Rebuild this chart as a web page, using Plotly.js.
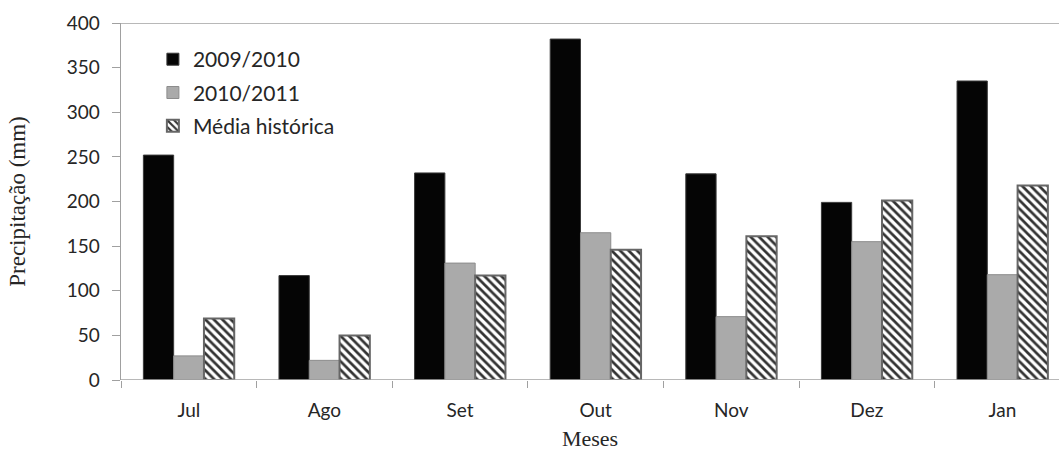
<!DOCTYPE html>
<html>
<head>
<meta charset="utf-8">
<script src="https://cdn.plot.ly/plotly-3.0.1.min.js"></script>
<style>html,body{margin:0;padding:0;background:#fff;overflow:hidden;}#chart{width:1059px;height:452px;}</style>
</head>
<body>
<div id="chart"></div>
<script>
const months = ["Jul", "Ago", "Set", "Out", "Nov", "Dez", "Jan"];
const seriesNames = ["2009/2010", "2010/2011", "Média histórica"];
const prec2009 = [252, 117, 232, 382, 231, 199, 335];
const prec2010 = [27, 22, 131, 165, 71, 155, 118];
const precMedia = [69, 50, 117, 146, 161, 201, 218];
const yTicks = [0, 50, 100, 150, 200, 250, 300, 350, 400];

const traces = [
  {type: "bar", name: seriesNames[0], x: months, y: prec2009, legendgroup: "a",
   marker: {color: "#050505", line: {color: "#3a3a3a", width: 1}}},
  {type: "bar", name: seriesNames[1], x: months, y: prec2010, legendgroup: "b",
   marker: {color: "#aaaaaa", line: {color: "#8c8c8c", width: 1}}},
  {type: "bar", name: seriesNames[2], x: months, y: precMedia, legendgroup: "c",
   marker: {color: "#ffffff", line: {color: "#666666", width: 2},
            pattern: {shape: "\\", fgcolor: "#333333", bgcolor: "#ffffff", size: 6, solidity: 0.45}}}
];

const layout = {
  width: 1059, height: 452,
  margin: {l: 121, r: 0, t: 23, b: 72},
  paper_bgcolor: "#ffffff", plot_bgcolor: "#ffffff",
  barmode: "group", bargap: 0.33, bargroupgap: 0,
  font: {family: "Lato, 'Open Sans', sans-serif", size: 19, color: "#262626"},
  showlegend: true,
  legend: {x: 0.034, y: 0.955, xanchor: "left", yanchor: "top", bgcolor: "rgba(0,0,0,0)",
           font: {family: "Lato, sans-serif", size: 21, color: "#262626"},
           traceorder: "grouped", tracegroupgap: 3, itemwidth: 30},
  shapes: [
    {type: "line", xref: "paper", yref: "y", x0: 0, x1: 1, y0: 400, y1: 400,
     line: {color: "#a0a0a0", width: 1.5}},
    {type: "line", xref: "paper", yref: "y", x0: 0, x1: 1, y0: 0, y1: 0,
     line: {color: "#a0a0a0", width: 1.5}}
  ],
  xaxis: {
    range: [-0.5, 6.417], showline: false,
    ticks: "outside", tickson: "boundaries", ticklen: 7, tickcolor: "#a0a0a0",
    ticklabelstandoff: 17,
    showgrid: false, zeroline: false,
    title: {text: "Meses", font: {family: "'Liberation Serif', 'DejaVu Serif', serif", size: 22, color: "#262626"}, standoff: 10}
  },
  yaxis: {
    range: [0, 400], tickvals: yTicks, showline: true, linecolor: "#a0a0a0", linewidth: 1.5,
    ticks: "outside", ticklen: 8, tickcolor: "#a0a0a0", showgrid: false, zeroline: false,
    ticklabelstandoff: 8,
    title: {text: "Precipitação (mm)", font: {family: "'Liberation Serif', 'DejaVu Serif', serif", size: 23, color: "#262626"}, standoff: 34}
  }
};

Plotly.newPlot("chart", traces, layout, {displayModeBar: false, staticPlot: true});
</script>
</body>
</html>
